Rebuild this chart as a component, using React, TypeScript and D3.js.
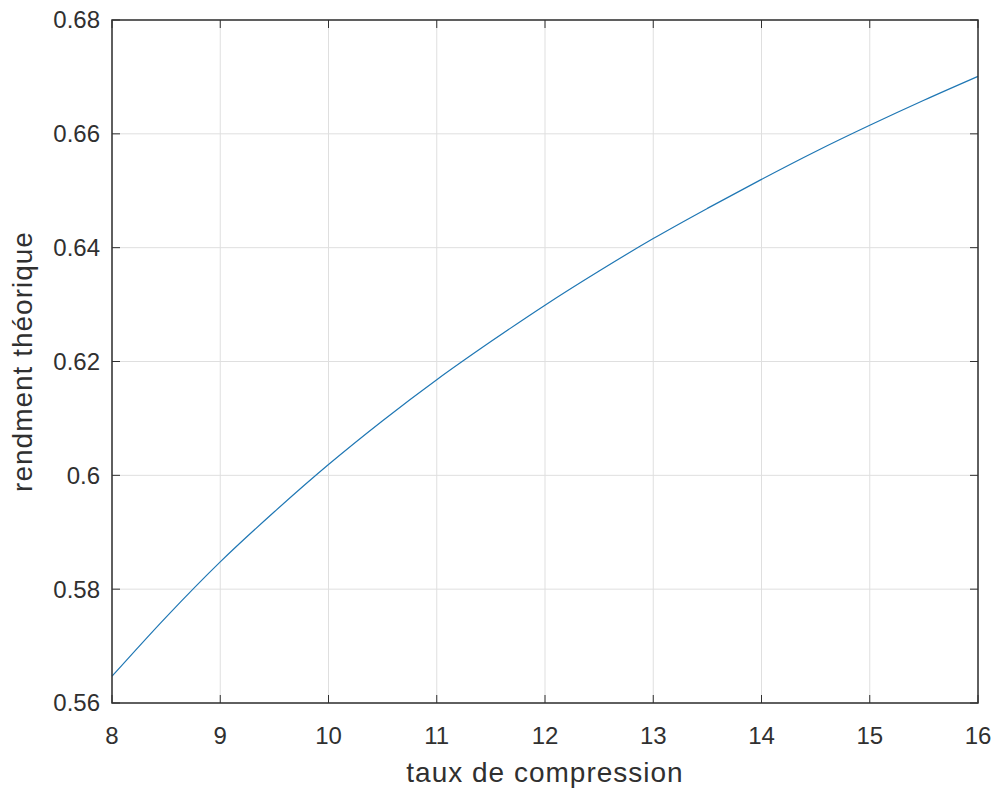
import React from "react";
import * as d3 from "d3";

// taux de compression (x) and rendement
const ratios = [8, 8.5, 9, 9.5, 10, 10.5, 11, 11.5, 12, 12.5, 13, 13.5, 14, 14.5, 15, 15.5, 16];
const rendement = [
  0.5647, 0.5751, 0.5848, 0.5936, 0.6019, 0.6096, 0.6168, 0.6235, 0.6299,
  0.6359, 0.6416, 0.6469, 0.652, 0.6569, 0.6615, 0.6659, 0.6701,
];
const xTicks = [8, 9, 10, 11, 12, 13, 14, 15, 16];
const yTicks = [0.56, 0.58, 0.6, 0.62, 0.64, 0.66, 0.68];
const yTickLabels = ["0.56", "0.58", "0.6", "0.62", "0.64", "0.66", "0.68"];

const App = () => {
  const width = 998;
  const height = 793;
  const left = 112;
  const right = 978;
  const top = 20;
  const bottom = 703;
  const tickLen = 8;
  const font = "'Liberation Sans', Arial, Helvetica, sans-serif";
  const ink = "#303030";

  const x = d3.scaleLinear().domain([8, 16]).range([left, right]);
  const y = d3.scaleLinear().domain([0.56, 0.68]).range([bottom, top]);

  const line = d3
    .line<number>()
    .x((d, i) => x(ratios[i]))
    .y((d) => y(d))
    .curve(d3.curveMonotoneX);

  return (
    <svg
      width={width}
      height={height}
      style={{ position: "absolute", left: 0, top: 0, background: "#fff" }}
    >
      <rect x={0} y={0} width={width} height={height} fill="#fff" />

      {/* grid */}
      {xTicks.map((t) => (
        <line key={"gx" + t} x1={x(t)} x2={x(t)} y1={top} y2={bottom} stroke="#dfdfdf" strokeWidth={1} />
      ))}
      {yTicks.map((t) => (
        <line key={"gy" + t} x1={left} x2={right} y1={y(t)} y2={y(t)} stroke="#dfdfdf" strokeWidth={1} />
      ))}

      {/* curve */}
      <path d={line(rendement) ?? ""} fill="none" stroke="#1f77b4" strokeWidth={1.2} />

      {/* ticks */}
      {xTicks.map((t) => (
        <g key={"tx" + t}>
          <line x1={x(t)} x2={x(t)} y1={bottom} y2={bottom - tickLen} stroke={ink} />
          <line x1={x(t)} x2={x(t)} y1={top} y2={top + tickLen} stroke={ink} />
          <text x={x(t)} y={744} textAnchor="middle" fontFamily={font} fontSize={24} fill={ink}>
            {t}
          </text>
        </g>
      ))}
      {yTicks.map((t, i) => (
        <g key={"ty" + t}>
          <line x1={left} x2={left + tickLen} y1={y(t)} y2={y(t)} stroke={ink} />
          <line x1={right} x2={right - tickLen} y1={y(t)} y2={y(t)} stroke={ink} />
          <text
            x={100}
            y={y(t)}
            dy="0.35em"
            textAnchor="end"
            fontFamily={font}
            fontSize={24}
            fill={ink}
          >
            {yTickLabels[i]}
          </text>
        </g>
      ))}

      {/* box */}
      <rect x={left} y={top} width={right - left} height={bottom - top} fill="none" stroke={ink} strokeWidth={1.5} />

      {/* labels */}
      <text
        x={(left + right) / 2}
        y={782}
        textAnchor="middle"
        fontFamily={font}
        fontSize={28}
        letterSpacing={1}
        fill={ink}
      >
        taux de compression
      </text>
      <text
        transform={`translate(${32},${(top + bottom) / 2}) rotate(-90)`}
        textAnchor="middle"
        fontFamily={font}
        fontSize={28}
        letterSpacing={1}
        fill={ink}
      >
        rendment théorique
      </text>
    </svg>
  );
};

export default App;
